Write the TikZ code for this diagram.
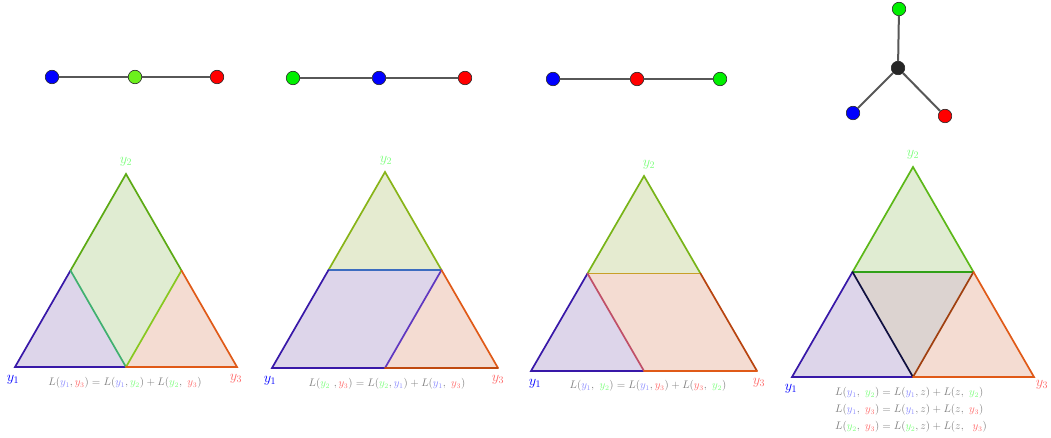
\documentclass[tikz,border=0pt]{standalone}
\usepackage{amsmath,amssymb}
\usetikzlibrary{calc}

\definecolor{fpurple}{HTML}{DDD5EA}
\definecolor{fgreen}{HTML}{E0ECD2}
\definecolor{folive}{HTML}{E5EBD0}
\definecolor{forange}{HTML}{F4DCD2}
\definecolor{fmid}{HTML}{DCD3D0}
\definecolor{epurple}{HTML}{3818A8}
\definecolor{eorange}{HTML}{E05A18}
\definecolor{egreen}{HTML}{5CAA14}
\definecolor{ltblue}{HTML}{8C8CFF}
\definecolor{ltgreen}{HTML}{7CFF7C}
\definecolor{ltred}{HTML}{FF6A6A}
\definecolor{vblue}{HTML}{0000FF}
\definecolor{vlime}{HTML}{6CF01C}
\definecolor{vgreen}{HTML}{00F000}
\definecolor{vred}{HTML}{FF0000}

\newcommand{\yblue}[1]{{\color{ltblue}y_{#1}}}
\newcommand{\ygreen}[1]{{\color{ltgreen}y_{#1}}}
\newcommand{\yred}[1]{{\color{ltred}y_{#1}}}

\begin{document}
\begin{tikzpicture}[x=1pt,y=-1pt,
  vtx/.style={circle,draw=black!85,line width=0.6pt,minimum size=13.5pt,inner sep=0pt},
  link/.style={draw=black!66,line width=2pt},
  side/.style={line width=1.7pt,line cap=round},
  corner/.style={font=\Large},
  eq/.style={text=black!50,font=\fontsize{10.6}{12}\selectfont,inner sep=0pt}
]
\useasboundingbox (0,0) rectangle (1051,438);

% Graphs on top
\node[vtx,fill=vblue] (g1a) at (52,77) {};
\node[vtx,fill=vlime] (g1b) at (135,77) {};
\node[vtx,fill=vred] (g1c) at (217,77) {};
\draw[link] (g1a) -- (g1b) -- (g1c);

\node[vtx,fill=vgreen] (g2b) at (293,78) {};
\node[vtx,fill=vblue] (g2a) at (379,78) {};
\node[vtx,fill=vred] (g2c) at (465,78) {};
\draw[link] (g2b) -- (g2a) -- (g2c);

\node[vtx,fill=vblue] (g3a) at (553,79) {};
\node[vtx,fill=vred] (g3c) at (637,79) {};
\node[vtx,fill=vgreen] (g3b) at (720,79) {};
\draw[link] (g3a) -- (g3c) -- (g3b);

\node[vtx,fill=black!85] (g4z) at (898,68) {};
\node[vtx,fill=vgreen] (g4b) at (899,9) {};
\node[vtx,fill=vblue] (g4a) at (853,113) {};
\node[vtx,fill=vred] (g4c) at (945,116) {};
\draw[link] (g4z) -- (g4b);
\draw[link] (g4z) -- (g4a);
\draw[link] (g4z) -- (g4c);

% Triangle corners and midpoints
\foreach \i/\ax/\ay/\bx/\by/\cx/\cy in
  {1/15/367/126/174/237/367, 2/272/368/385/172/498/368,
   3/531/371/644/176/757/371, 4/792/377/913/167/1034/377} {
  \coordinate (a\i) at (\ax,\ay);
  \coordinate (b\i) at (\bx,\by);
  \coordinate (c\i) at (\cx,\cy);
  \coordinate (ab\i) at ($(a\i)!0.5!(b\i)$);
  \coordinate (bc\i) at ($(b\i)!0.5!(c\i)$);
  \coordinate (ac\i) at ($(a\i)!0.5!(c\i)$);
}

% First triangle
\fill[fpurple] (a1) -- (ab1) -- (ac1) -- cycle;
\fill[fgreen] (ab1) -- (b1) -- (bc1) -- (ac1) -- cycle;
\fill[forange] (ac1) -- (bc1) -- (c1) -- cycle;
\draw[side,epurple] (ab1) -- (a1) -- (ac1);
\draw[side,egreen] (ab1) -- (b1) -- (bc1);
\draw[side,color={rgb,255:red,64;green,176;blue,112}] (ab1) -- (ac1);
\draw[side,color={rgb,255:red,136;green,200;blue,32}] (bc1) -- (ac1);
\draw[side,eorange] (bc1) -- (c1) -- (ac1);

% Second triangle
\fill[folive] (ab2) -- (b2) -- (bc2) -- cycle;
\fill[fpurple] (a2) -- (ab2) -- (bc2) -- (ac2) -- cycle;
\fill[forange] (ac2) -- (bc2) -- (c2) -- cycle;
\draw[side,color={rgb,255:red,136;green,180;blue,24}] (ab2) -- (b2) -- (bc2);
\draw[side,color={rgb,255:red,60;green,108;blue,192}] (ab2) -- (bc2);
\draw[side,epurple] (ab2) -- (a2) -- (ac2);
\draw[side,color={rgb,255:red,96;green,56;blue,192}] (ac2) -- (bc2);
\draw[side,eorange] (bc2) -- (c2);
\draw[side,color={rgb,255:red,192;green,74;blue,16}] (ac2) -- (c2);

% Third triangle
\fill[folive] (ab3) -- (b3) -- (bc3) -- cycle;
\fill[fpurple] (a3) -- (ab3) -- (ac3) -- cycle;
\fill[forange] (ab3) -- (bc3) -- (c3) -- (ac3) -- cycle;
\draw[side,color={rgb,255:red,120;green,180;blue,24}] (ab3) -- (b3) -- (bc3);
\draw[side,color={rgb,255:red,200;green,160;blue,40}] (ab3) -- (bc3);
\draw[side,epurple] (ab3) -- (a3) -- (ac3);
\draw[side,color={rgb,255:red,192;green,80;blue,104}] (ab3) -- (ac3);
\draw[side,color={rgb,255:red,184;green,68;blue,16}] (bc3) -- (c3);
\draw[side,eorange] (ac3) -- (c3);

% Fourth triangle
\fill[fgreen] (ab4) -- (b4) -- (bc4) -- cycle;
\fill[fmid] (ab4) -- (bc4) -- (ac4) -- cycle;
\fill[fpurple] (a4) -- (ab4) -- (ac4) -- cycle;
\fill[forange] (ac4) -- (bc4) -- (c4) -- cycle;
\draw[side,color={rgb,255:red,92;green,184;blue,24}] (ab4) -- (b4) -- (bc4);
\draw[side,color={rgb,255:red,48;green,160;blue,24}] (ab4) -- (bc4);
\draw[side,epurple] (ab4) -- (a4) -- (ac4);
\draw[side,color={rgb,255:red,16;green,16;blue,64}] (ab4) -- (ac4);
\draw[side,color={rgb,255:red,160;green,64;blue,16}] (bc4) -- (ac4);
\draw[side,eorange] (bc4) -- (c4) -- (ac4);

% Corner labels
\foreach \i/\ax/\ay/\bx/\by/\cx/\cy in
  {1/13/380/126/162/236/379, 2/270/381/386/161/498/380,
   3/535/384/649/165/759/383, 4/791/389/913/155/1042/385} {
  \node[corner,text=vblue] (ya\i) at (\ax,\ay) {$y_1$};
  \node[corner,text=ltgreen] (yb\i) at (\bx,\by) {$y_2$};
  \node[corner,text=ltred] (yc\i) at (\cx,\cy) {$y_3$};
}

% Relations
\node[eq] (rel1) at (125,383) {$L(\yblue1,\yred3)=L(\yblue1,\ygreen2)+L(\ygreen2,\ \yred3)$};
\node[eq] (rel2) at (387,384) {$L(\ygreen2\ ,\yred3)=L(\ygreen2,\yblue1)+L(\yblue1,\ \yred3)$};
\node[eq] (rel3) at (648,386) {$L(\yblue1,\ \ygreen2)=L(\yblue1,\yred3)+L(\yred3,\ \ygreen2)$};
\node[eq,anchor=west] (rel4a) at (835,393) {$L(\yblue1,\ \ygreen2)=L(\yblue1,z)+L(z,\ \ygreen2)$};
\node[eq,anchor=west] (rel4b) at (835,410) {$L(\yblue1,\ \yred3)=L(\yblue1,z)+L(z,\ \yred3)$};
\node[eq,anchor=west] (rel4c) at (835,427) {$L(\ygreen2,\ \yred3)=L(\ygreen2,z)+L(z,\ \ \yred3)$};

\end{tikzpicture}
\end{document}
